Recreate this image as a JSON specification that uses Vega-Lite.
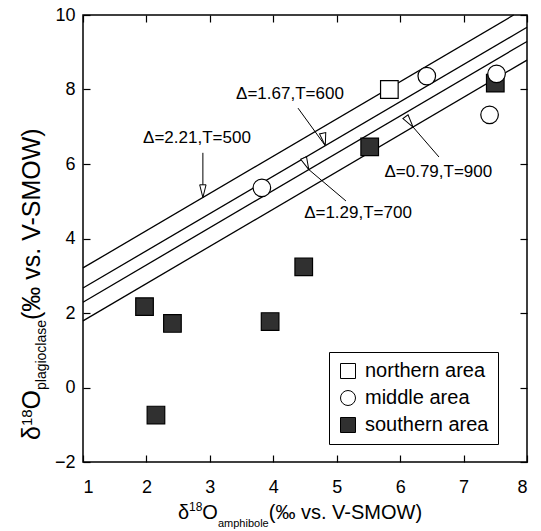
{
  "$schema": "https://vega.github.io/schema/vega-lite/v6.json",
  "width": 444,
  "height": 447,
  "autosize": {"type": "none"},
  "padding": {"left": 83, "top": 15, "right": 14, "bottom": 69},
  "config": {
    "font": "Liberation Sans",
    "view": {"stroke": "black", "strokeWidth": 1.5},
    "axis": {"grid": false, "domain": false, "tickColor": "black", "tickSize": -7, "tickWidth": 1.2, "labelColor": "black", "labelFontSize": 18, "labelFont": "Liberation Sans", "title": null},
    "legend": {"padding": 9, "rowPadding": 7, "strokeColor": "black", "fillColor": "white", "labelFontSize": 20, "labelColor": "black", "labelFont": "Liberation Sans", "symbolSize": 225, "symbolStrokeColor": "black", "symbolStrokeWidth": 1, "labelOffset": 7}
  },
  "datasets": {
    "lines": [
      {"line": "2.21", "x": 1, "y": 3.21}, {"line": "2.21", "x": 7.79, "y": 10},
      {"line": "1.67", "x": 1, "y": 2.67}, {"line": "1.67", "x": 8, "y": 9.67},
      {"line": "1.29", "x": 1, "y": 2.29}, {"line": "1.29", "x": 8, "y": 9.29},
      {"line": "0.79", "x": 1, "y": 1.79}, {"line": "0.79", "x": 8, "y": 8.79}
    ],
    "notes": [
      {"label": "Δ=2.21,T=500", "lx": 2.797, "ly": 6.698, "tx": 2.89, "ty": 6.30, "hx": 2.89, "hy": 5.10},
      {"label": "Δ=1.67,T=600", "lx": 4.263, "ly": 7.879, "tx": 4.39, "ty": 7.50, "hx": 4.82, "hy": 6.49},
      {"label": "Δ=1.29,T=700", "lx": 5.336, "ly": 4.685, "tx": 5.146, "ty": 5.007, "hx": 4.56, "hy": 5.85},
      {"label": "Δ=0.79,T=900", "lx": 6.602, "ly": 5.772, "tx": 6.612, "ty": 6.188, "hx": 6.203, "hy": 6.993}
    ],
    "points": [
      {"area": "southern area", "amph": 7.50, "plag": 8.17},
      {"area": "southern area", "amph": 5.52, "plag": 6.46},
      {"area": "southern area", "amph": 4.48, "plag": 3.24},
      {"area": "southern area", "amph": 1.97, "plag": 2.17},
      {"area": "southern area", "amph": 2.41, "plag": 1.72},
      {"area": "southern area", "amph": 3.95, "plag": 1.77},
      {"area": "southern area", "amph": 2.15, "plag": -0.74},
      {"area": "northern area", "amph": 5.83, "plag": 8.0},
      {"area": "middle area", "amph": 6.42, "plag": 8.36},
      {"area": "middle area", "amph": 7.52, "plag": 8.42},
      {"area": "middle area", "amph": 7.41, "plag": 7.32},
      {"area": "middle area", "amph": 3.82, "plag": 5.36}
    ],
    "xtitle": [
      {"part": "main", "text": "δ", "x": 2.498, "y": -3.53},
      {"part": "sup", "text": "18", "x": 2.673, "y": -3.315},
      {"part": "main", "text": "O", "x": 2.882, "y": -3.53},
      {"part": "sub", "text": "amphibole", "x": 3.128, "y": -3.745},
      {"part": "main", "text": "(‰ vs. V-SMOW)", "x": 3.928, "y": -3.53}
    ],
    "ytitle": [
      {"part": "main", "text": "δ", "x": 0.322, "y": -1.409},
      {"part": "sup", "text": "18", "x": 0.196, "y": -1.036},
      {"part": "main", "text": "O", "x": 0.322, "y": -0.588},
      {"part": "sub", "text": "plagioclase", "x": 0.417, "y": -0.067},
      {"part": "main", "text": "(‰ vs. V-SMOW)", "x": 0.322, "y": 1.812}
    ]
  },
  "layer": [
    {
      "data": {"name": "lines"},
      "mark": {"type": "line", "color": "black", "strokeWidth": 1.3},
      "encoding": {
        "x": {"field": "x", "type": "quantitative", "scale": {"domain": [1, 8], "nice": false, "zero": false}, "axis": {"orient": "bottom", "values": [1, 2, 3, 4, 5, 6, 7, 8], "labelPadding": 23}},
        "y": {"field": "y", "type": "quantitative", "scale": {"domain": [-2, 10], "nice": false, "zero": false}, "axis": {"orient": "left", "values": [-2, 0, 2, 4, 6, 8, 10], "labelPadding": 15}},
        "detail": {"field": "line"}
      }
    },
    {
      "data": {"name": "notes"},
      "mark": {"type": "rule", "color": "black", "strokeWidth": 1},
      "encoding": {
        "x": {"field": "tx", "type": "quantitative", "scale": {"domain": [1, 8], "nice": false, "zero": false}, "axis": null},
        "y": {"field": "ty", "type": "quantitative", "scale": {"domain": [-2, 10], "nice": false, "zero": false}, "axis": null},
        "x2": {"field": "hx"},
        "y2": {"field": "hy"}
      }
    },
    {
      "data": {"name": "notes"},
      "mark": {"type": "point", "shape": "M0,0L0.45,1.8L-0.45,1.8Z", "size": 200, "filled": true, "fill": "white", "stroke": "black", "strokeWidth": 1, "opacity": 1},
      "encoding": {
        "x": {"field": "hx", "type": "quantitative", "scale": {"domain": [1, 8], "nice": false, "zero": false}, "axis": null},
        "y": {"field": "hy", "type": "quantitative", "scale": {"domain": [-2, 10], "nice": false, "zero": false}, "axis": null},
        "angle": {"field": "label", "type": "nominal", "scale": {"domain": ["Δ=2.21,T=500", "Δ=1.67,T=600", "Δ=1.29,T=700", "Δ=0.79,T=900"], "range": [180, 143.7, 310, 319]}, "legend": null}
      }
    },
    {
      "data": {"name": "notes"},
      "mark": {"type": "text", "fontSize": 17, "color": "black", "align": "center", "baseline": "middle"},
      "encoding": {
        "x": {"field": "lx", "type": "quantitative", "scale": {"domain": [1, 8], "nice": false, "zero": false}, "axis": null},
        "y": {"field": "ly", "type": "quantitative", "scale": {"domain": [-2, 10], "nice": false, "zero": false}, "axis": null},
        "text": {"field": "label"}
      }
    },
    {
      "data": {"name": "points"},
      "mark": {"type": "point", "filled": true, "strokeWidth": 1.2, "opacity": 1, "size": 310},
      "encoding": {
        "x": {"field": "amph", "type": "quantitative", "scale": {"domain": [1, 8], "nice": false, "zero": false}, "axis": {"orient": "top", "values": [1, 2, 3, 4, 5, 6, 7, 8], "labels": false}},
        "y": {"field": "plag", "type": "quantitative", "scale": {"domain": [-2, 10], "nice": false, "zero": false}, "axis": {"orient": "right", "values": [-2, 0, 2, 4, 6, 8, 10], "labels": false}},
        "shape": {"field": "area", "type": "nominal", "title": null, "scale": {"domain": ["northern area", "middle area", "southern area"], "range": ["square", "circle", "square"]},
          "legend": {"orient": "none", "legendX": 246, "legendY": 337}},
        "fill": {"field": "area", "type": "nominal", "title": null, "scale": {"domain": ["northern area", "middle area", "southern area"], "range": ["white", "white", "#303030"]},
          "legend": {"orient": "none", "legendX": 246, "legendY": 337}},
        "stroke": {"field": "area", "type": "nominal", "title": null, "scale": {"domain": ["northern area", "middle area", "southern area"], "range": ["black", "black", "black"]},
          "legend": {"orient": "none", "legendX": 246, "legendY": 337}}
      }
    },
    {
      "data": {"name": "xtitle"},
      "transform": [{"filter": "datum.part === 'main'"}],
      "mark": {"type": "text", "fontSize": 20, "color": "black", "align": "left", "baseline": "alphabetic"},
      "encoding": {
        "x": {"field": "x", "type": "quantitative", "scale": {"domain": [1, 8], "nice": false, "zero": false}, "axis": null},
        "y": {"field": "y", "type": "quantitative", "scale": {"domain": [-2, 10], "nice": false, "zero": false}, "axis": null},
        "text": {"field": "text"}
      }
    },
    {
      "data": {"name": "xtitle"},
      "transform": [{"filter": "datum.part === 'sup'"}],
      "mark": {"type": "text", "fontSize": 12, "color": "black", "align": "left", "baseline": "alphabetic"},
      "encoding": {
        "x": {"field": "x", "type": "quantitative", "scale": {"domain": [1, 8], "nice": false, "zero": false}, "axis": null},
        "y": {"field": "y", "type": "quantitative", "scale": {"domain": [-2, 10], "nice": false, "zero": false}, "axis": null},
        "text": {"field": "text"}
      }
    },
    {
      "data": {"name": "xtitle"},
      "transform": [{"filter": "datum.part === 'sub'"}],
      "mark": {"type": "text", "fontSize": 11, "color": "black", "align": "left", "baseline": "alphabetic"},
      "encoding": {
        "x": {"field": "x", "type": "quantitative", "scale": {"domain": [1, 8], "nice": false, "zero": false}, "axis": null},
        "y": {"field": "y", "type": "quantitative", "scale": {"domain": [-2, 10], "nice": false, "zero": false}, "axis": null},
        "text": {"field": "text"}
      }
    },
    {
      "data": {"name": "ytitle"},
      "transform": [{"filter": "datum.part === 'main'"}],
      "mark": {"type": "text", "fontSize": 25, "color": "black", "align": "left", "baseline": "alphabetic", "angle": 270},
      "encoding": {
        "x": {"field": "x", "type": "quantitative", "scale": {"domain": [1, 8], "nice": false, "zero": false}, "axis": null},
        "y": {"field": "y", "type": "quantitative", "scale": {"domain": [-2, 10], "nice": false, "zero": false}, "axis": null},
        "text": {"field": "text"}
      }
    },
    {
      "data": {"name": "ytitle"},
      "transform": [{"filter": "datum.part === 'sup'"}],
      "mark": {"type": "text", "fontSize": 15, "color": "black", "align": "left", "baseline": "alphabetic", "angle": 270},
      "encoding": {
        "x": {"field": "x", "type": "quantitative", "scale": {"domain": [1, 8], "nice": false, "zero": false}, "axis": null},
        "y": {"field": "y", "type": "quantitative", "scale": {"domain": [-2, 10], "nice": false, "zero": false}, "axis": null},
        "text": {"field": "text"}
      }
    },
    {
      "data": {"name": "ytitle"},
      "transform": [{"filter": "datum.part === 'sub'"}],
      "mark": {"type": "text", "fontSize": 14, "color": "black", "align": "left", "baseline": "alphabetic", "angle": 270},
      "encoding": {
        "x": {"field": "x", "type": "quantitative", "scale": {"domain": [1, 8], "nice": false, "zero": false}, "axis": null},
        "y": {"field": "y", "type": "quantitative", "scale": {"domain": [-2, 10], "nice": false, "zero": false}, "axis": null},
        "text": {"field": "text"}
      }
    }
  ],
  "resolve": {"axis": {"x": "independent", "y": "independent"}}
}
